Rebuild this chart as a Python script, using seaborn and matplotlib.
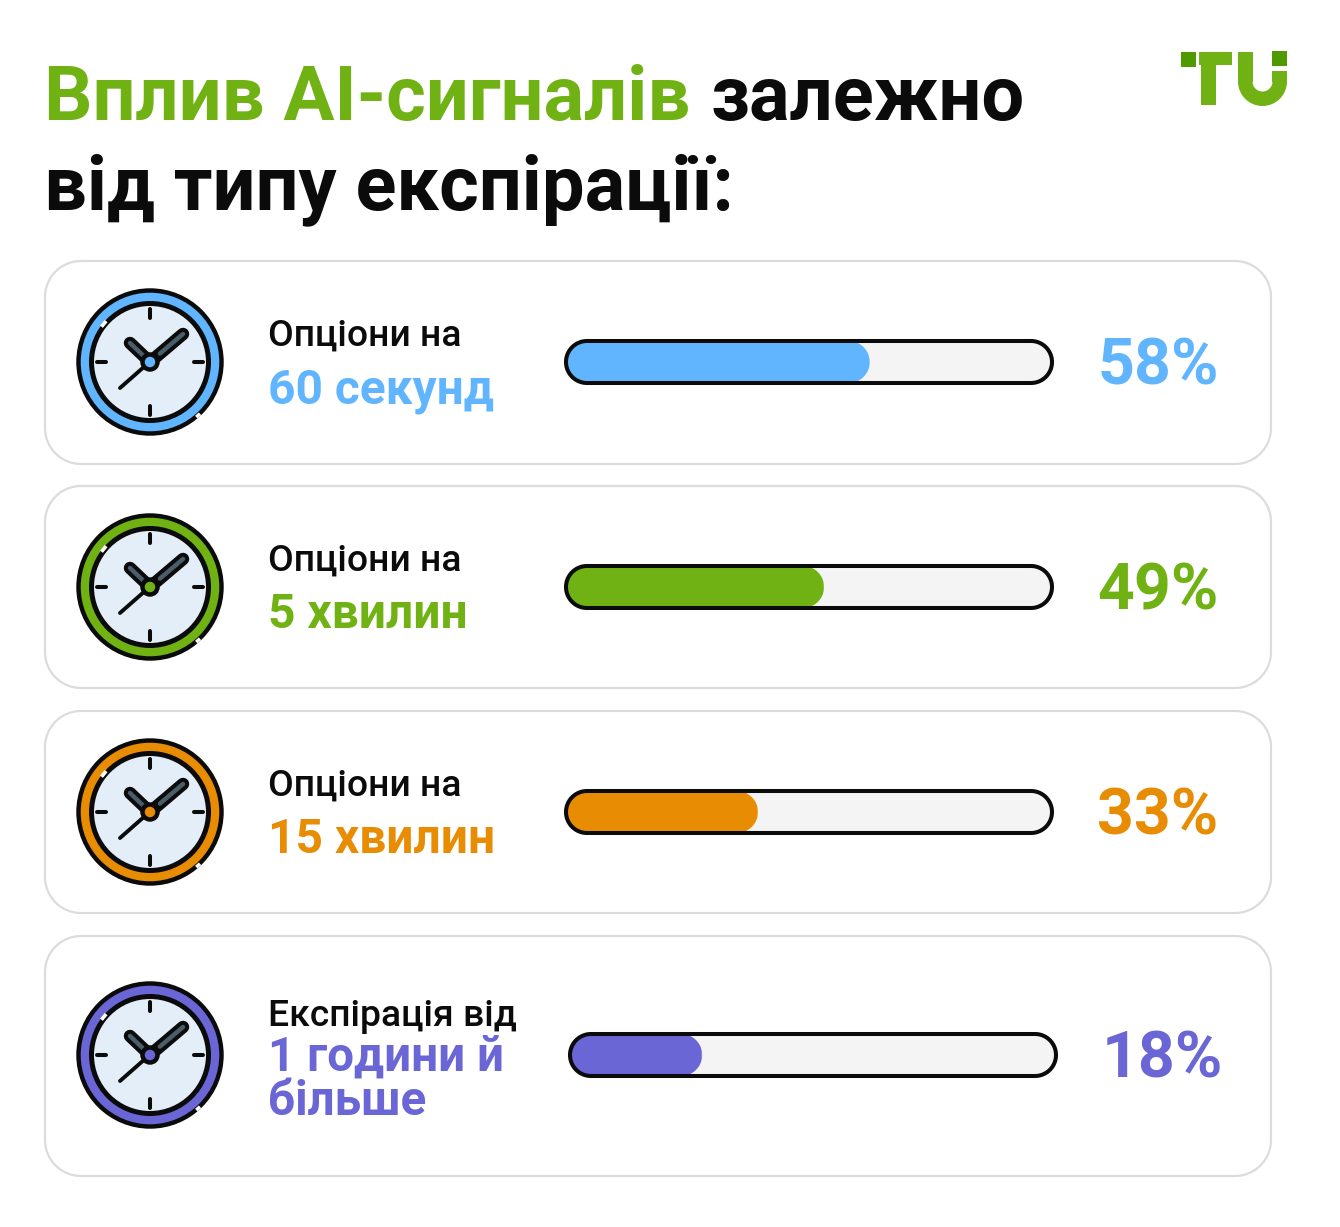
import matplotlib
matplotlib.use("Agg")
import matplotlib.pyplot as plt
import numpy as np
import seaborn as sns
from matplotlib.patches import Circle, Polygon, Rectangle, Wedge

# values printed on the cards, and how far each bar is actually filled
first_lines = ["Опціони на", "Опціони на", "Опціони на", "Експірація від"]
second_lines = ["60 секунд", "5 хвилин", "15 хвилин", "1 години й\nбільше"]
values = [58, 49, 33, 18]
fill_levels = [62.5, 53.1, 39.5, 27.2]
colors = ["#61b5ff", "#70b214", "#e88c04", "#6a66d6"]

INK = "#0b0b0b"
GREEN = "#70b214"
DARK_GREEN = "#4f9a00"

sns.set_theme(style="white")
plt.rcParams["font.family"] = ["Roboto", "DejaVu Sans"]

fig = plt.figure(figsize=(13.4, 12.27), dpi=100, facecolor="white")
bg = fig.add_axes([0, 0, 1, 1])
bg.set_xlim(0, 1340)
bg.set_ylim(1227, 0)
bg.axis("off")


def round_box(x0, y0, x1, y1, r, **kw):
    # true circular corners, FancyBboxPatch corners come out too square
    corners = [(x1 - r, y0 + r, -90), (x1 - r, y1 - r, 0), (x0 + r, y1 - r, 90), (x0 + r, y0 + r, 180)]
    pts = []
    for cx, cy, start in corners:
        t = np.radians(np.linspace(start, start + 90, 24))
        pts.extend(zip(cx + r * np.cos(t), cy + r * np.sin(t)))
    return Polygon(pts, closed=True, **kw)


def draw_clock(cx, cy, color):
    bg.add_patch(Circle((cx, cy), 71.5, fc=color, ec=INK, lw=3.2))
    bg.add_patch(Circle((cx, cy), 58.5, fc="#e4eef8", ec=INK, lw=3.6))
    # little highlights cut into the rings
    for r, a0, a1 in [(60, 216, 223), (72, 46, 50)]:
        t = np.radians([a0, a1])
        bg.plot(cx + r * np.cos(t), cy + r * np.sin(t), color="white", lw=2.6, solid_capstyle="butt")
    for ang in [0, 90, 180, 270]:
        t = np.radians(ang)
        bg.plot([cx + 44 * np.cos(t), cx + 53 * np.cos(t)],
                [cy + 44 * np.sin(t), cy + 53 * np.sin(t)],
                color=INK, lw=2.9, solid_capstyle="round")
    bg.plot([cx - 5, cx - 30], [cy + 4, cy + 26], color=INK, lw=2.8, solid_capstyle="round")
    for ex, ey in [(cx - 20, cy - 19), (cx + 33, cy - 28)]:
        bg.plot([cx, ex], [cy, ey], color=INK, lw=9, solid_capstyle="round")
        bg.plot([cx + 0.3 * (ex - cx), ex], [cy + 0.3 * (ey - cy), ey],
                color="#4a5d6b", lw=3.2, solid_capstyle="round")
    bg.add_patch(Circle((cx, cy), 7.5, fc=color, ec=INK, lw=3.2, zorder=5))


# title
bg.text(44.5, 120, "Вплив AI-сигналів", fontsize=54.6, fontweight="bold", color=GREEN, va="baseline")
bg.text(710.5, 120, "залежно", fontsize=54.6, fontweight="bold", color=INK, va="baseline")
bg.text(44.5, 209.5, "від типу експірації:", fontsize=54.6, fontweight="bold", color=INK, va="baseline")

# logo
bg.add_patch(Rectangle((1181, 52), 15, 15, fc=DARK_GREEN, ec="none"))
bg.add_patch(Rectangle((1199, 52), 33, 13, fc=GREEN, ec="none"))
bg.add_patch(Rectangle((1201, 52), 15, 53, fc=GREEN, ec="none"))
bg.add_patch(Rectangle((1238, 52), 14.5, 30, fc=GREEN, ec="none"))
bg.add_patch(Rectangle((1272, 71), 15, 11, fc=GREEN, ec="none"))
bg.add_patch(Wedge((1262.5, 81.5), 24.5, 0, 180, width=14.5, fc=GREEN, ec="none"))
bg.add_patch(Rectangle((1272, 51), 15, 15, fc=DARK_GREEN, ec="none"))

# cards
card_tops = [261, 486, 711, 936]
card_bottoms = [464, 688, 913, 1176]
centers = [362, 587, 812, 1055]
bar_shift = [0, 0, 0, 4]

for i, value in enumerate(values):
    color = colors[i]
    cy = centers[i]
    bg.add_patch(round_box(45, card_tops[i], 1271, card_bottoms[i], 36, fc="white", ec="#dcdcdc", lw=1.6))
    draw_clock(150, cy, color)

    # text block
    if i < 3:
        bg.text(268.5, cy - 16, first_lines[i], fontsize=26.8, fontweight="medium", color=INK, va="baseline")
        bg.text(268, cy + 41, second_lines[i], fontsize=34.5, fontweight="bold", color=color, va="baseline")
    else:
        bg.text(268.5, cy - 29, first_lines[i], fontsize=26.8, fontweight="medium", color=INK, va="baseline")
        line_a, line_b = second_lines[i].split("\n")
        bg.text(268, cy + 15, line_a, fontsize=34.3, fontweight="bold", color=color, va="baseline")
        bg.text(268, cy + 60, line_b, fontsize=34.3, fontweight="bold", color=color, va="baseline")

    # bar with its own 0-100 scale
    x0 = 566 + bar_shift[i]
    x1 = 1052 + bar_shift[i]
    y0 = cy - 21
    y1 = cy + 21
    bg.add_patch(round_box(x0, y0, x1, y1, 21, fc="#f4f4f4", ec="none"))

    ax = fig.add_axes([x0 / 1340, 1 - y1 / 1227, (x1 - x0) / 1340, (y1 - y0) / 1227])
    ax.patch.set_alpha(0)
    sns.barplot(x=[fill_levels[i]], y=[second_lines[i]], color=color, saturation=1,
                width=1, orient="h", ax=ax)
    ax.set_xlim(0, 100)
    ax.axis("off")
    for bar in ax.patches:
        ext = bg.transData.inverted().transform(bar.get_window_extent())
        clip = round_box(ext[:, 0].min(), ext[:, 1].min(), ext[:, 0].max(), ext[:, 1].max(), 21,
                         transform=bg.transData)
        bar.set_clip_path(clip)
    outline = round_box(x0, y0, x1, y1, 21, fc="none", ec=INK, lw=2.9, transform=bg.transData, clip_on=False)
    ax.add_patch(outline)

    bg.text(1158 + bar_shift[i], cy + 22.5, f"{value}%", fontsize=46.4, fontweight="bold", color=color,
            ha="center", va="baseline")

fig.savefig("out.png", dpi=100, facecolor="white")
